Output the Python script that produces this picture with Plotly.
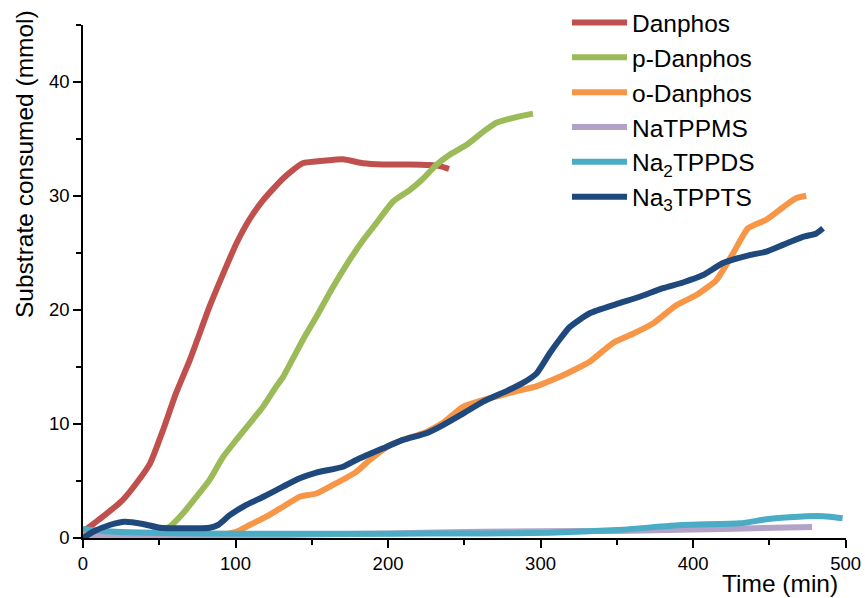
import plotly.graph_objects as go

# ---- data ----
danphos_t = [0, 13, 26, 35, 44, 52.5, 61, 70, 75, 83, 92, 100.5, 109, 118, 131, 144, 159.5, 170.5, 183.6, 196.7, 214, 227, 234, 240]
danphos_y = [0.55, 1.87, 3.33, 4.8, 6.55, 9.47, 12.7, 15.6, 17.4, 20.3, 23.2, 25.8, 27.9, 29.6, 31.5, 32.85, 33.1, 33.2, 32.85, 32.75, 32.75, 32.7, 32.6, 32.35]

pdanphos_t = [0, 20, 45, 57, 65.6, 74.3, 83, 91.8, 100.5, 109.3, 118, 126.8, 131.1, 144.3, 153, 163.9, 174.9, 183.6, 192.3, 203.3, 214.2, 222.9, 231.6, 240.4, 251.3, 262.3, 271, 284.1, 295]
pdanphos_y = [0.65, 0.5, 0.45, 1.0, 2.16, 3.6, 5.1, 7.1, 8.6, 10.05, 11.5, 13.3, 14.1, 17.4, 19.4, 22.0, 24.4, 26.1, 27.6, 29.5, 30.5, 31.5, 32.7, 33.6, 34.45, 35.6, 36.4, 36.9, 37.2]

odanphos_t = [0, 30, 60, 90, 100.5, 109.3, 120.2, 131.1, 142.1, 153, 163.9, 179.2, 188, 201.1, 209.8, 225.1, 236, 249.1, 262.3, 282, 297.2, 310.3, 316.9, 332.2, 347.5, 360.6, 373.7, 389, 402.1, 415.2, 426.2, 436, 448, 459, 467.7, 474.2]
odanphos_y = [0.35, 0.3, 0.3, 0.3, 0.55, 1.14, 1.87, 2.74, 3.62, 3.9, 4.65, 5.8, 6.84, 8.15, 8.6, 9.3, 10.1, 11.5, 12.1, 12.8, 13.3, 14.0, 14.4, 15.45, 17.1, 17.9, 18.8, 20.4, 21.3, 22.6, 24.95, 27.15, 27.9, 29.0, 29.8, 30.0]

natppms_t = [0, 50, 100, 150, 200, 262, 300, 350, 400, 440, 478]
natppms_y = [0.1, 0.15, 0.2, 0.3, 0.4, 0.55, 0.6, 0.62, 0.75, 0.85, 0.97]

na2tppds_t = [0, 15, 30, 60, 100, 200, 262, 306, 350, 393, 431, 448, 463, 481, 490, 498]
na2tppds_y = [0.8, 0.6, 0.5, 0.42, 0.38, 0.38, 0.4, 0.46, 0.7, 1.14, 1.29, 1.64, 1.81, 1.93, 1.87, 1.73]

na3tppts_t = [0, 6.6, 17.5, 27.3, 39.3, 50.3, 65.6, 83, 88.5, 96.2, 107.1, 118, 131.1, 142.1, 153, 170.5, 179.2, 196.7, 209.8, 225.1, 236, 249.1, 262.3, 278, 288.5, 297.2, 306, 312.5, 319.1, 332.2, 349.7, 365, 380.3, 393.4, 406.5, 419.6, 437.1, 448, 459, 472, 480.8, 485.2]
na3tppts_y = [0, 0.55, 1.14, 1.43, 1.23, 0.9, 0.85, 0.9, 1.14, 2.0, 2.9, 3.6, 4.5, 5.23, 5.73, 6.25, 6.84, 7.86, 8.6, 9.18, 9.9, 10.9, 11.95, 12.9, 13.6, 14.4, 16.2, 17.4, 18.5, 19.7, 20.5, 21.15, 21.9, 22.4, 23.05, 24.1, 24.8, 25.1, 25.7, 26.4, 26.7, 27.15]

series_names = ["Danphos", "p-Danphos", "o-Danphos", "NaTPPMS",
                "Na<sub>2</sub>TPPDS", "Na<sub>3</sub>TPPTS"]
series_t = [danphos_t, pdanphos_t, odanphos_t, natppms_t, na2tppds_t, na3tppts_t]
series_y = [danphos_y, pdanphos_y, odanphos_y, natppms_y, na2tppds_y, na3tppts_y]
series_colors = ["#C0504D", "#9BBB59", "#F79646", "#B3A2C7", "#4BACC6", "#1F497D"]

x_ticks = [0, 100, 200, 300, 400, 500]
x_minor = [50, 150, 250, 350, 450]
y_ticks = [0, 10, 20, 30, 40]
y_minor = [5, 15, 25, 35, 45]

FONT = "Liberation Sans, Arial, sans-serif"
W, H = 865, 598

fig = go.Figure()
for name, t, y, c in zip(series_names, series_t, series_y, series_colors):
    fig.add_trace(go.Scatter(x=t, y=y, mode="lines", name=name,
                             line=dict(color=c, width=6, shape="spline", smoothing=0.5)))

axis_common = dict(
    showgrid=False, zeroline=False, showline=True, linecolor="black", linewidth=1.5,
    ticks="outside", ticklen=8, tickwidth=1.5, tickcolor="black",
    tickfont=dict(family=FONT, size=18.5, color="black"),
    minor=dict(ticks="outside", ticklen=5, tickwidth=1.5, tickcolor="black"),
    automargin=False,
)

fig.update_xaxes(range=[0, 500], tickvals=x_ticks, minor_tickvals=x_minor,
                 domain=[83 / W, 845.6 / W], **axis_common)
fig.update_yaxes(range=[0, 45], tickvals=y_ticks, minor_tickvals=y_minor,
                 domain=[1 - 538 / H, 1 - 24.7 / H], **axis_common)

fig.add_annotation(text="Time (min)", xref="paper", yref="paper",
                   x=840 / W, y=1 - 583 / H, xanchor="right", yanchor="middle",
                   showarrow=False, font=dict(family=FONT, size=24.5, color="black"))
fig.add_annotation(text="Substrate consumed (mmol)", xref="paper", yref="paper",
                   x=24 / W, y=1 - 164 / H, xanchor="center", yanchor="middle",
                   textangle=-90, showarrow=False,
                   font=dict(family=FONT, size=24.5, color="black"))

fig.update_layout(
    width=W, height=H,
    margin=dict(l=0, r=0, t=0, b=0),
    paper_bgcolor="white", plot_bgcolor="white",
    legend=dict(x=567 / W, y=1.0, xanchor="left", yanchor="top",
                font=dict(family=FONT, size=24.5, color="black"),
                bgcolor="rgba(0,0,0,0)", itemwidth=55),
)

fig.write_html("out.html")
